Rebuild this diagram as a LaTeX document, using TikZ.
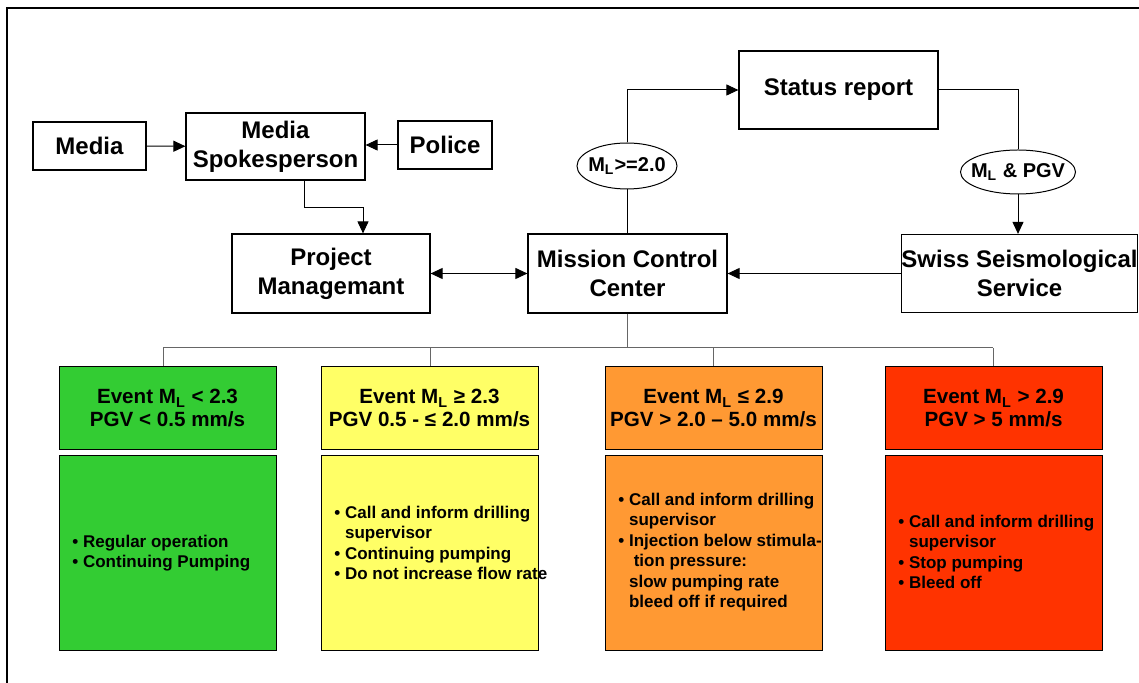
\documentclass[tikz,border=0pt]{standalone}
\usepackage{fontspec}
\setmainfont{Liberation Sans}
\usetikzlibrary{positioning,arrows.meta,shapes.geometric}
\definecolor{evgreen}{RGB}{51,204,51}
\definecolor{evyellow}{RGB}{255,255,102}
\definecolor{evorange}{RGB}{255,153,51}
\definecolor{evred}{RGB}{255,51,0}
\newcommand{\ind}{\phantom{• }}
\newcommand{\ML}{M\textsubscript{L}}

\begin{document}
\begin{tikzpicture}[x=0.5pt,y=-0.5pt,
  box/.style={draw,line width=0.6pt,align=center,inner sep=0pt,
    font=\bfseries\fontsize{12}{14.5}\selectfont},
  cond/.style={draw,ellipse,line width=0.5pt,inner xsep=-8pt,inner ysep=-3pt,
    font=\bfseries\fontsize{10}{12}\selectfont},
  evhead/.style={draw,line width=0.5pt,align=center,minimum width=108.5pt,
    minimum height=41.5pt,inner sep=0pt,font=\bfseries\fontsize{10.3}{11.5}\selectfont},
  evbody/.style={draw,line width=0.5pt,minimum width=108.5pt,minimum height=97pt},
  evtext/.style={anchor=west,align=left,inner sep=0pt,
    font=\bfseries\fontsize{8.5}{10.25}\selectfont},
  arr/.style={-{Triangle[length=6pt,width=5.5pt]},line width=0.5pt},
  dbl/.style={{Triangle[length=6pt,width=5.5pt]}-{Triangle[length=6pt,width=5.5pt]},line width=0.5pt},
  bus/.style={line width=0.5pt,black!60}]
\useasboundingbox (0,0) rectangle (1139,683);
\draw[line width=1pt] (7,683) -- (7,8) -- (1139,8);

% top row
\node[box,minimum width=56.5pt,minimum height=24pt] (media) at (89.5,146) {Media};
\node[box,minimum width=89.5pt,minimum height=33.5pt] (spokes) at (275.5,146.5) {Media\\Spokesperson};
\node[box,minimum width=47pt,minimum height=24pt] (police) at (445,145) {Police};
\node[box,minimum width=99.5pt,minimum height=39pt] (status) at (838.5,90) {Status report};

% middle row
\node[box,minimum width=99pt,minimum height=39.5pt] (pm) at (331,273.5) {Project\\Managemant};
\node[box,minimum width=99.5pt,minimum height=39.5pt] (mcc) at (627.5,273.5) {Mission Control\\Center};
\node[box,minimum width=117.5pt,minimum height=39pt] (sss) at (1019.5,273.5) {Swiss Seismological\\Service};

\node[cond,minimum width=50pt,minimum height=23pt] (ml) at (627,166) {\ML>=2.0};
\node[cond,minimum width=57.5pt,minimum height=22pt] (mlpgv) at (1018,172) {\ML{} \& PGV};

\draw[arr] (media) -- (spokes);
\draw[arr] (police.west) -- (police.west -| spokes.east);
\draw[arr] (spokes.south -| 304,0) -- (304,208) -| (pm.north -| 363,0);
\draw[dbl] (pm) -- (mcc);
\draw[arr] (sss) -- (mcc);
\draw[line width=0.5pt] (mcc.north -| ml) -- (ml);
\draw[arr] (ml.north) |- (status.west);
\draw[line width=0.5pt] (status.east) -| (mlpgv.north);
\draw[arr] (mlpgv.south) -- (mlpgv.south |- sss.north);

% alert levels
\node[evhead,fill=evgreen] (ev1) at (167.5,408.5) {Event \ML{} < 2.3\\PGV < 0.5 mm/s};
\node[evhead,fill=evyellow] (ev2) at (429.5,408.5) {Event \ML{} ≥ 2.3\\PGV 0.5 - ≤ 2.0 mm/s};
\node[evhead,fill=evorange] (ev3) at (713.5,408.5) {Event \ML{} ≤ 2.9\\PGV > 2.0 – 5.0 mm/s};
\node[evhead,fill=evred] (ev4) at (993.5,408.5) {Event \ML{} > 2.9\\PGV > 5 mm/s};

\node[evbody,fill=evgreen] (do1) at (167.5,553) {};
\node[evbody,fill=evyellow] (do2) at (429.5,553) {};
\node[evbody,fill=evorange] (do3) at (713.5,553) {};
\node[evbody,fill=evred] (do4) at (993.5,553) {};

\node[evtext] (tx1) at (72,553) {• Regular operation\\• Continuing Pumping};
\node[evtext] (tx2) at (334,543) {• Call and inform drilling\\\ind supervisor\\• Continuing pumping\\• Do not increase flow rate};
\node[evtext] (tx3) at (618,552) {• Call and inform drilling\\\ind supervisor\\• Injection below stimula-\\\ind\ tion pressure:\\\ind slow pumping rate\\\ind bleed off if required};
\node[evtext] (tx4) at (898,552) {• Call and inform drilling\\\ind supervisor\\• Stop pumping\\• Bleed off};

\coordinate (hub) at (627,348);
\coordinate (b1) at (163,348);
\coordinate (b2) at (430,348);
\coordinate (b3) at (713,348);
\coordinate (b4) at (993,348);
\draw[bus] (mcc.south -| hub) -- (hub);
\draw[bus] (b1) -- (b4);
\foreach \b/\e in {b1/ev1,b2/ev2,b3/ev3,b4/ev4}
  \draw[bus] (\b) -- (\b |- \e.north);
\end{tikzpicture}
\end{document}
